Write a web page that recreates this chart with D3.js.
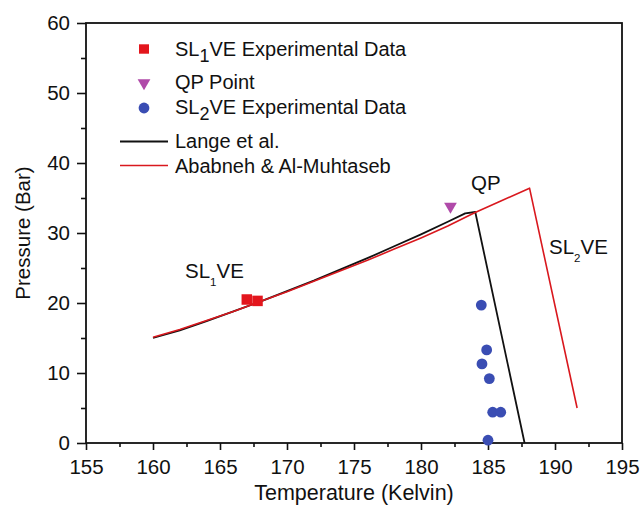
<!DOCTYPE html>
<html>
<head>
<meta charset="utf-8">
<script src="https://cdn.jsdelivr.net/npm/d3@7"></script>
<style>
  html, body { margin: 0; padding: 0; background: #fff; }
  svg { display: block; font-family: "Liberation Sans", Arial, Helvetica, sans-serif; }
</style>
</head>
<body>
<svg id="chart" width="642" height="508"></svg>
<script>
// ---------- data ----------
const xTicks = [155, 160, 165, 170, 175, 180, 185, 190, 195];
const xMinorTicks = [157.5, 162.5, 167.5, 172.5, 177.5, 182.5, 187.5, 192.5];
const yTicks = [0, 10, 20, 30, 40, 50, 60];
const yMinorTicks = [5, 15, 25, 35, 45, 55];

// SL1VE experimental data
const sl1T = [167.0, 167.8];
const sl1P = [20.5, 20.3];

// QP point
const qpT = [182.2];
const qpP = [33.8];

// SL2VE experimental data
const sl2T = [184.5, 184.9, 184.55, 185.1, 185.35, 185.95, 185.0];
const sl2P = [19.7, 13.3, 11.3, 9.2, 4.4, 4.4, 0.4];

// Lange et al. (black)
const langeT = [160, 162, 164, 166, 168, 170, 172, 174, 176, 178, 180, 182, 183.3, 184.05, 187.73];
const langeP = [15.0, 16.1, 17.4, 18.8, 20.2, 21.7, 23.2, 24.8, 26.4, 28.1, 29.8, 31.6, 32.8, 33.0, 0.0];

// Ababneh & Al-Muhtaseb (red)
const ababT = [160, 162, 164, 166, 168, 170, 172, 174, 176, 178, 180, 182, 184, 186, 188.1, 191.65];
const ababP = [15.1, 16.2, 17.5, 18.8, 20.2, 21.6, 23.1, 24.6, 26.1, 27.7, 29.3, 31.0, 32.9, 34.6, 36.4, 5.0];

// ---------- drawing ----------
const svg = d3.select("#chart");
const x = d3.scaleLinear().domain([155, 195]).range([86, 622]);
const y = d3.scaleLinear().domain([0, 60]).range([443, 23]);

const RED = "#e3161d", LINE_RED = "#d9181e", BLUE = "#3a4db3", PURPLE = "#b04aa9";

// axes
const gx = svg.append("g").attr("transform", `translate(0,${y(0)})`)
  .call(d3.axisBottom(x).tickValues(xTicks).tickSize(7).tickPadding(9).tickFormat(d3.format("d")));
const gxm = svg.append("g").attr("transform", `translate(0,${y(0)})`)
  .call(d3.axisBottom(x).tickValues(xMinorTicks).tickSize(4).tickFormat(""));
const gy = svg.append("g").attr("transform", `translate(${x(155)},0)`)
  .call(d3.axisLeft(y).tickValues(yTicks).tickSize(9).tickPadding(7).tickFormat(d3.format("d")));
const gym = svg.append("g").attr("transform", `translate(${x(155)},0)`)
  .call(d3.axisLeft(y).tickValues(yMinorTicks).tickSize(5).tickFormat(""));
[gx, gxm, gy, gym].forEach(g => {
  g.select(".domain").remove();
  g.selectAll("line").attr("stroke", "#111").attr("stroke-width", 1.6);
  g.selectAll("text").attr("font-size", 20.5).attr("fill", "#111")
    .attr("font-family", '"Liberation Sans", Arial, sans-serif');
});

// frame
svg.append("rect")
  .attr("x", x(155)).attr("y", y(60))
  .attr("width", x(195) - x(155)).attr("height", y(0) - y(60))
  .attr("fill", "none").attr("stroke", "#111").attr("stroke-width", 1.8);

// axis titles
svg.append("text").attr("x", (x(155) + x(195)) / 2).attr("y", 500)
  .attr("text-anchor", "middle").attr("font-size", 21.5).attr("fill", "#111")
  .text("Temperature (Kelvin)");
svg.append("text").attr("transform", `translate(30,${(y(0) + y(60)) / 2}) rotate(-90)`)
  .attr("text-anchor", "middle").attr("font-size", 20.5).attr("fill", "#111")
  .text("Pressure (Bar)");

// lines
const line = d3.line().x(d => x(d[0])).y(d => y(d[1]));
svg.append("path").datum(langeT.map((t, i) => [t, langeP[i]]))
  .attr("d", line).attr("fill", "none").attr("stroke", "#111").attr("stroke-width", 1.8)
  .attr("stroke-linejoin", "round");
svg.append("path").datum(ababT.map((t, i) => [t, ababP[i]]))
  .attr("d", line).attr("fill", "none").attr("stroke", LINE_RED).attr("stroke-width", 1.6)
  .attr("stroke-linejoin", "round");

// markers
const sq = 10.5;
svg.append("g").selectAll("rect").data(sl1T.map((t, i) => [t, sl1P[i]])).join("rect")
  .attr("x", d => x(d[0]) - sq / 2).attr("y", d => y(d[1]) - sq / 2)
  .attr("width", sq).attr("height", sq).attr("fill", RED);

const tri = d3.symbol().type(d3.symbolTriangle).size(70);
svg.append("g").selectAll("path").data(qpT.map((t, i) => [t, qpP[i]])).join("path")
  .attr("d", tri).attr("transform", d => `translate(${x(d[0])},${y(d[1])}) rotate(180)`)
  .attr("fill", PURPLE);

svg.append("g").selectAll("circle").data(sl2T.map((t, i) => [t, sl2P[i]])).join("circle")
  .attr("cx", d => x(d[0])).attr("cy", d => y(d[1])).attr("r", 5.4).attr("fill", BLUE);

// annotations
function subText(xp, yp, main1, sub, main2, fs, subFs, subDy) {
  const t = svg.append("text").attr("x", xp).attr("y", yp).attr("font-size", fs).attr("fill", "#111");
  t.append("tspan").text(main1);
  t.append("tspan").attr("font-size", subFs).attr("dy", subDy).text(sub);
  t.append("tspan").attr("dy", -subDy).text(main2);
  return t;
}
subText(185, 278, "SL", "1", "VE", 20.5, 11.5, 8);
svg.append("text").attr("x", 471).attr("y", 190).attr("font-size", 20.5).attr("fill", "#111").text("QP");
subText(549, 254, "SL", "2", "VE", 20.5, 11.5, 8);

// legend
const lgX = 144, txX = 175;
svg.append("rect").attr("x", lgX - 5).attr("y", 49 - 4.7).attr("width", 10).attr("height", 9.4).attr("fill", RED);
svg.append("path").attr("d", tri).attr("transform", `translate(${lgX},83) rotate(180)`).attr("fill", PURPLE);
svg.append("circle").attr("cx", lgX).attr("cy", 108).attr("r", 5.4).attr("fill", BLUE);
svg.append("line").attr("x1", 120).attr("x2", 168).attr("y1", 141.5).attr("y2", 141.5)
  .attr("stroke", "#111").attr("stroke-width", 1.8);
svg.append("line").attr("x1", 120).attr("x2", 168).attr("y1", 165.5).attr("y2", 165.5)
  .attr("stroke", LINE_RED).attr("stroke-width", 1.6);

subText(txX, 56, "SL", "1", "VE Experimental Data", 20, 18, 6);
svg.append("text").attr("x", txX).attr("y", 89).attr("font-size", 20).attr("fill", "#111").text("QP Point");
subText(txX, 114, "SL", "2", "VE Experimental Data", 20, 18, 6);
svg.append("text").attr("x", txX).attr("y", 148).attr("font-size", 20).attr("fill", "#111").text("Lange et al.");
svg.append("text").attr("x", txX).attr("y", 173).attr("font-size", 20).attr("fill", "#111").text("Ababneh & Al-Muhtaseb");
</script>
</body>
</html>
